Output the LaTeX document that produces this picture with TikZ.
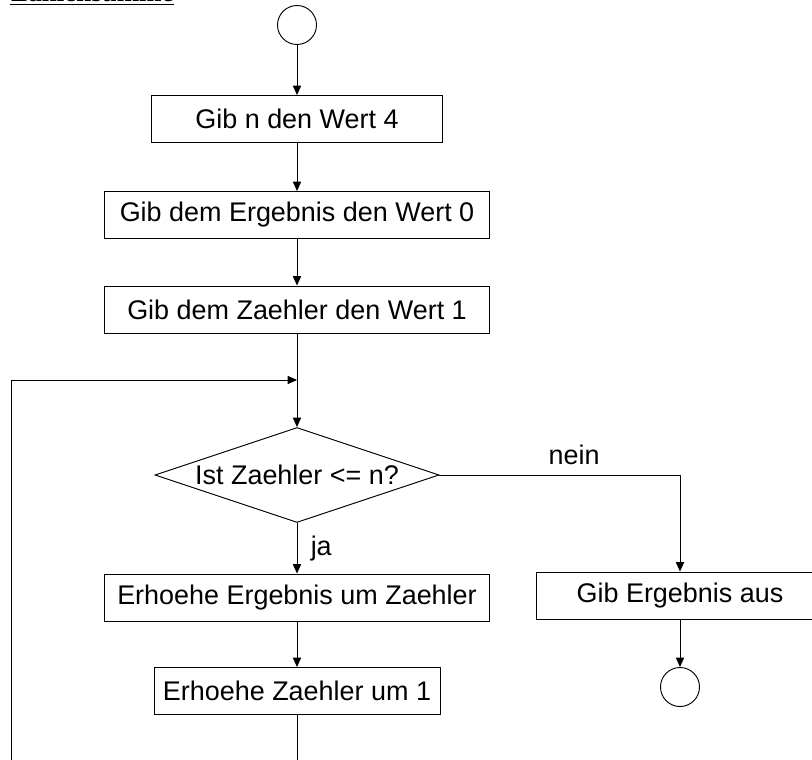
\documentclass[tikz,border=0pt]{standalone}
\usepackage{fontspec}
\setmainfont{Liberation Sans}
\newfontfamily\titlefont{Liberation Serif}
\usetikzlibrary{arrows.meta,shapes.geometric}
\begin{document}
\begin{tikzpicture}[x=0.03cm, y=-0.03cm, line width=0.8pt,
  every node/.style={font=\fontsize{23}{27}\selectfont},
  box/.style={rectangle, draw, minimum height=1.41cm, inner sep=0pt},
  term/.style={circle, draw, minimum size=1.17cm, inner sep=0pt},
  test/.style={diamond, draw, aspect=2.99, inner sep=0pt, minimum width=8.52cm, minimum height=2.85cm},
  flow/.style={-{Triangle[length=8pt,width=7pt]}}]
  \useasboundingbox (0,0) rectangle (812,760);
  \node[anchor=base west, inner sep=0pt, font=\titlefont\bfseries\fontsize{23}{27}\selectfont] (title) at (10,2) {\underline{Zahlensumme}};
  \node[term] (start) at (297,25) {};
  \node[box, minimum width=8.73cm] (n4) at (297,119) {Gib n den Wert 4};
  \node[box, minimum width=11.55cm] (erg0) at (297,215) {Gib dem Ergebnis den Wert 0};
  \node[box, minimum width=11.55cm] (zae1) at (297,309.5) {Gib dem Zaehler den Wert 1};
  \coordinate (join) at (297,380);
  \node[test] (frage) at (297,475) {Ist Zaehler <= n?};
  \node[box, minimum width=11.55cm] (ergplus) at (297,597.5) {Erhoehe Ergebnis um Zaehler};
  \node[box, minimum width=8.58cm] (zaeplus) at (297,691) {Erhoehe Zaehler um 1};
  \node[box, minimum width=8.64cm] (ausgabe) at (680,595.5) {Gib Ergebnis aus};
  \node[term] (ende) at (680,687) {};
  \coordinate (loopleft) at (11,800);
  \draw[flow] (start) -- (n4);
  \draw[flow] (n4) -- (erg0);
  \draw[flow] (erg0) -- (zae1);
  \draw (zae1) -- (join);
  \draw[flow] (join) -- (frage);
  \draw[flow] (frage) -- node[right, xshift=8] (ja) {ja} (ergplus);
  \draw[flow] (ergplus) -- (zaeplus);
  \draw[flow] (zaeplus.south) |- (loopleft) |- (join);
  \draw[flow] (frage.east) -| node[pos=0.28, above, yshift=5] (nein) {nein} (ausgabe);
  \draw[flow] (ausgabe) -- (ende);
\end{tikzpicture}
\end{document}
